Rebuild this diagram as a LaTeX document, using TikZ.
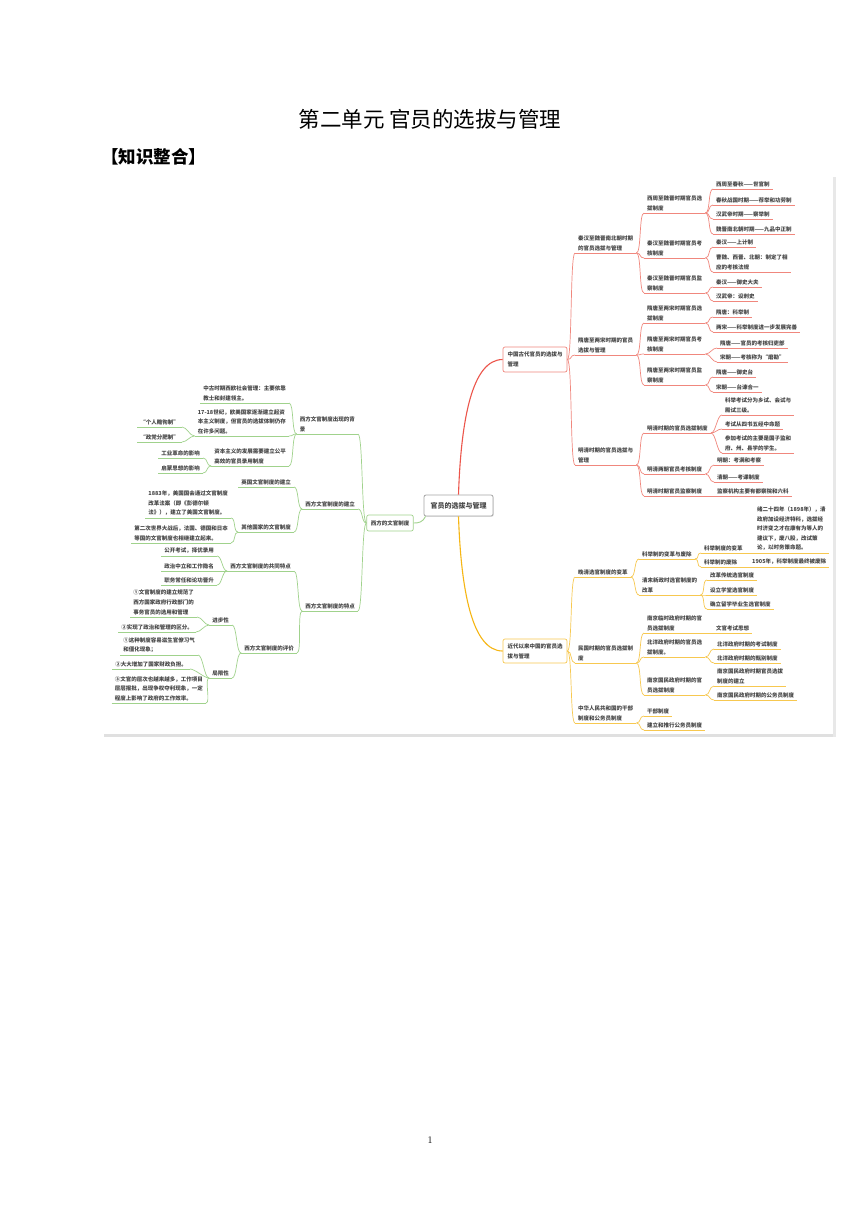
\documentclass[tikz,border=0pt]{standalone}
\usepackage{fontspec}
\newfontfamily\cjk{Noto Sans CJK SC}
\usetikzlibrary{calc,shadows}
\definecolor{cred}{RGB}{240,135,125}
\definecolor{credd}{RGB}{236,85,75}
\definecolor{cyel}{RGB}{247,200,80}
\definecolor{cyeld}{RGB}{246,182,20}
\definecolor{cgrn}{RGB}{160,210,140}
\definecolor{ctxt}{RGB}{70,70,70}
\begin{document}
\begin{tikzpicture}[x=1pt,y=-1pt,
 base/.style={font=\cjk\bfseries\fontsize{5.5}{9.6}\selectfont, text=ctxt, inner xsep=3pt, inner ysep=2pt, align=left},
 ul/.style={append after command={(\tikzlastnode.south west) edge[draw=#1,line width=0.7pt] (\tikzlastnode.south east)}},
 rr/.style={base, anchor=south west, ul=cred},
 ry/.style={base, anchor=south west, ul=cyel},
 lg/.style={base, anchor=south east, ul=cgrn},
 cr/.style={draw=cred, line width=0.7pt},
 cy/.style={draw=cyel, line width=0.7pt},
 cg/.style={draw=cgrn, line width=0.7pt},
 box/.style={draw=#1, fill=white, rounded corners=2pt, line width=0.7pt, font=\cjk\bfseries\fontsize{5.5}{10}\selectfont, text=ctxt, align=left, inner xsep=4pt, inner ysep=2.5pt},
]
\useasboundingbox (0,0) rectangle (860,1216);
\fill[white] (0,0) rectangle (860,1216);

% page texts
\node[font=\cjk\fontsize{21.5}{21.5}\selectfont, text=black] (title) at (430,119) {第二单元 官员的选拔与管理};
\node[font=\cjk\bfseries\fontsize{17.5}{17.5}\selectfont, text=black, anchor=west, inner sep=0pt] (sub) at (101,157) {【知识整合】};
\node[font=\fontsize{10}{10}\selectfont] (pno) at (430,1140) {1};

% image frame shadow
\fill[black!12] (104,733.5) rectangle (836,737);
\fill[black!9] (832.5,177) rectangle (836,737);

% root and main boxes
\node[draw=black!35, fill=white, rounded corners=2pt, line width=0.8pt, minimum width=69pt, minimum height=21pt, font=\cjk\bfseries\fontsize{7}{8}\selectfont, text=ctxt, drop shadow={opacity=0.2, shadow xshift=0.8pt, shadow yshift=-0.8pt}] (root) at (458.5,505.5) {官员的选拔与管理};
\node[box=cred, minimum width=64pt, minimum height=25pt] (abox) at (535,359.5) {中国古代官员的选拔与\\管理};
\node[box=cyel, minimum width=64pt, minimum height=24pt] (bbox) at (535,651) {近代以来中国的官员选\\拔与管理};
\node[box=cgrn, minimum width=46pt, minimum height=16pt] (wbox) at (390,523) {西方的文官制度};

\draw[draw=credd, line width=1.1pt] (root.north) .. controls (461,420) and (472,359.5) .. (abox.west);
\draw[draw=cyeld, line width=1.1pt] (root.south) .. controls (461,590) and (472,651) .. (bbox.west);
\draw[cg, line width=0.9pt] ($(root.south west)+(2,0)$) .. controls +(-3,6) and +(5,0) .. (wbox.east);

% ===== red branch =====
\node[rr] (a1) at (575,253) {秦汉至魏晋南北朝时期\\的官员选拔与管理};
\node[rr] (a2) at (575,355) {隋唐至两宋时期的官员\\选拔与管理};
\node[rr] (a3) at (575,465) {明清时期的官员选拔与\\管理};

\node[rr] (a11) at (644,213) {西周至魏晋时期官员选\\拔制度};
\node[rr] (a12) at (644,258) {秦汉至魏晋时期官员考\\核制度};
\node[rr] (a13) at (644,293) {秦汉至魏晋时期官员监\\察制度};
\node[rr] (a111) at (713,189) {西周至春秋——世官制};
\node[rr] (a112) at (713,205) {春秋战国时期——荐举和功劳制};
\node[rr] (a113) at (713,219) {汉武帝时期——察举制};
\node[rr] (a114) at (713,234) {魏晋南北朝时期——九品中正制};
\node[rr] (a121) at (713,247) {秦汉——上计制};
\node[rr] (a122) at (713,272) {曹魏、西晋、北朝：制定了相\\应的考核法规};
\node[rr] (a131) at (713,287) {秦汉——御史大夫};
\node[rr] (a132) at (713,301) {汉武帝：设刺史};

\node[rr] (a21) at (644,323) {隋唐至两宋时期官员选\\拔制度};
\node[rr] (a22) at (644,354) {隋唐至两宋时期官员考\\核制度};
\node[rr] (a23) at (644,385) {隋唐至两宋时期官员监\\察制度};
\node[rr] (a211) at (713,317) {隋唐：科举制};
\node[rr] (a212) at (713,332) {两宋——科举制度进一步发展完善};
\node[rr] (a221) at (717,348) {隋唐——官员的考核归吏部};
\node[rr] (a222) at (717,362) {宋朝——考核称为“磨勘”};
\node[rr] (a231) at (713,377) {隋唐——御史台};
\node[rr] (a232) at (713,392) {宋朝——台谏合一};

\node[rr] (a31) at (644,433) {明清时期的官员选拔制度};
\node[rr] (a32) at (644,474) {明清两朝官员考核制度};
\node[rr] (a33) at (644,496) {明清时期官员监察制度};
\node[rr] (a311) at (722,415) {科举考试分为乡试、会试与\\殿试三级。};
\node[rr] (a312) at (722,429) {考试从四书五经中命题};
\node[rr] (a313) at (722,453) {参加考试的主要是国子监和\\府、州、县学的学生。};
\node[rr] (a321) at (714,465) {明朝：考满和考察};
\node[rr] (a322) at (714,482) {清朝——考课制度};
\node[rr] (a331) at (714,496) {监察机构主要有都察院和六科};

\foreach \c in {a1,a2,a3} \draw[cr] (abox.east) .. controls +(5,0) and +(-5,0) .. (\c.south west);
\foreach \c in {a11,a12,a13} \draw[cr] (a1.south east) .. controls +(5,0) and +(-5,0) .. (\c.south west);
\foreach \c in {a21,a22,a23} \draw[cr] (a2.south east) .. controls +(5,0) and +(-5,0) .. (\c.south west);
\foreach \c in {a31,a32,a33} \draw[cr] (a3.south east) .. controls +(5,0) and +(-5,0) .. (\c.south west);
\foreach \c in {a111,a112,a113,a114} \draw[cr] (a11.south east) .. controls +(5,0) and +(-5,0) .. (\c.south west);
\foreach \c in {a121,a122} \draw[cr] (a12.south east) .. controls +(5,0) and +(-5,0) .. (\c.south west);
\foreach \c in {a131,a132} \draw[cr] (a13.south east) .. controls +(5,0) and +(-5,0) .. (\c.south west);
\foreach \c in {a211,a212} \draw[cr] (a21.south east) .. controls +(5,0) and +(-5,0) .. (\c.south west);
\foreach \c in {a221,a222} \draw[cr] (a22.south east) .. controls +(5,0) and +(-5,0) .. (\c.south west);
\foreach \c in {a231,a232} \draw[cr] (a23.south east) .. controls +(5,0) and +(-5,0) .. (\c.south west);
\foreach \c in {a311,a312,a313} \draw[cr] (a31.south east) .. controls +(5,0) and +(-5,0) .. (\c.south west);
\foreach \c in {a321,a322} \draw[cr] (a32.south east) .. controls +(5,0) and +(-5,0) .. (\c.south west);
\draw[cr] (a33.south east) -- (a331.south west);

% ===== yellow branch =====
\node[ry] (b1) at (575,577) {晚清选官制度的变革};
\node[ry] (b2) at (575,663) {民国时期的官员选拔制\\度};
\node[ry] (b3) at (575,723) {中华人民共和国的干部\\制度和公务员制度};

\node[ry] (b11) at (639,559) {科举制的变革与废除};
\node[ry] (b12) at (639,595) {清末新政时选官制度的\\改革};
\node[ry] (b111) at (701,553) {科举制度的变革};
\node[ry] (b112) at (701,567) {科举制的废除};
\node[ry] (b1111) at (754,553) {绪二十四年（1898年），清\\政府加设经济特科，选拔经\\时济变之才在康有为等人的\\建议下，废八股，改试策\\论，以时务策命题。};
\node[ry] (b1121) at (749,567) {1905年，科举制度最终被废除};
\node[ry] (b121) at (707,580) {改革传统选官制度};
\node[ry] (b122) at (707,595) {设立学堂选官制度};
\node[ry] (b123) at (707,609) {确立留学毕业生选官制度};

\node[ry] (b21) at (644,633) {南京临时政府时期的官\\员选拔制度};
\node[ry] (b22) at (644,657) {北洋政府时期的官员选\\拔制度。};
\node[ry] (b23) at (644,695) {南京国民政府时期的官\\员选拔制度};
\node[ry] (b211) at (713,633) {文官考试思想};
\node[ry] (b221) at (714,649) {北洋政府时期的考试制度};
\node[ry] (b222) at (714,663) {北洋政府时期的甄别制度};
\node[ry] (b231) at (714,686) {南京国民政府时期官员选拔\\制度的建立};
\node[ry] (b232) at (714,700) {南京国民政府时期的公务员制度};

\node[ry] (b31) at (644,716) {干部制度};
\node[ry] (b32) at (644,730) {建立和推行公务员制度};

\foreach \c in {b1,b2,b3} \draw[cy] (bbox.east) .. controls +(5,0) and +(-5,0) .. (\c.south west);
\foreach \c in {b11,b12} \draw[cy] (b1.south east) .. controls +(5,0) and +(-5,0) .. (\c.south west);
\foreach \c in {b111,b112} \draw[cy] (b11.south east) .. controls +(5,0) and +(-5,0) .. (\c.south west);
\draw[cy] (b111.south east) -- (b1111.south west);
\draw[cy] (b112.south east) -- (b1121.south west);
\foreach \c in {b121,b122,b123} \draw[cy] (b12.south east) .. controls +(5,0) and +(-5,0) .. (\c.south west);
\foreach \c in {b21,b22,b23} \draw[cy] (b2.south east) .. controls +(5,0) and +(-5,0) .. (\c.south west);
\draw[cy] (b21.south east) -- (b211.south west);
\foreach \c in {b221,b222} \draw[cy] (b22.south east) .. controls +(5,0) and +(-5,0) .. (\c.south west);
\foreach \c in {b231,b232} \draw[cy] (b23.south east) .. controls +(5,0) and +(-5,0) .. (\c.south west);
\foreach \c in {b31,b32} \draw[cy] (b3.south east) .. controls +(5,0) and +(-5,0) .. (\c.south west);

% ===== green branch =====
\node[lg] (c1) at (358,434) {西方文官制度出现的背\\景};
\node[lg] (c2) at (358,509) {西方文官制度的建立};
\node[lg] (c3) at (358,611) {西方文官制度的特点};

\node[lg] (c11) at (289,403) {中古时期西欧社会管理：主要依靠\\教士和封建领主。};
\node[lg] (c12) at (289,436) {17-18世纪，欧美国家逐渐建立起资\\本主义制度，但官员的选拔体制仍存\\在许多问题。};
\node[lg] (c13) at (289,466) {资本主义的发展需要建立公平\\高效的官员录用制度};
\node[lg] (c121) at (182,427) {“个人赡徇制”};
\node[lg] (c122) at (182,442) {“政党分肥制”};
\node[lg] (c131) at (203,458) {工业革命的影响};
\node[lg] (c132) at (203,473) {启蒙思想的影响};

\node[lg] (c21) at (294,487) {英国文官制度的建立};
\node[lg] (c22) at (294,532) {其他国家的文官制度};
\node[lg] (c221) at (231,518) {1883年，美国国会通过文官制度\\改革法案（即《彭德尔顿\\法》），建立了美国文官制度。};
\node[lg] (c222) at (231,543) {第二次世界大战后，法国、德国和日本\\等国的文官制度也相继建立起来。};

\node[lg] (c31) at (294,571) {西方文官制度的共同特点};
\node[lg] (c32) at (297,653) {西方文官制度的评价};
\node[lg] (c311) at (217,556) {公开考试，择优录用};
\node[lg] (c312) at (217,571) {政治中立和工作隐名};
\node[lg] (c313) at (217,585) {职务常任和论功晋升};
\node[lg] (c321) at (232,625) {进步性};
\node[lg] (c322) at (232,678) {局限性};
\node[lg] (c3211) at (197,617) {①文官制度的建立规范了\\西方国家政府行政部门的\\事务官员的选用和管理};
\node[lg] (c3212) at (196,632) {②实现了政治和管理的区分。};
\node[lg] (c3221) at (198,655) {①这种制度容易滋生官僚习气\\和僵化现象；};
\node[lg] (c3222) at (190,669) {②大大增加了国家财政负担。};
\node[lg] (c3223) at (206,703) {③文官的层次也越来越多，工作项目\\层层报批，出现争权夺利现象，一定\\程度上影响了政府的工作效率。};

\foreach \c in {c1,c2,c3} \draw[cg] (wbox.west) .. controls +(-5,0) and +(5,0) .. (\c.south east);
\foreach \c in {c11,c12,c13} \draw[cg] (c1.south west) .. controls +(-5,0) and +(5,0) .. (\c.south east);
\foreach \c in {c121,c122} \draw[cg] (c12.south west) .. controls +(-5,0) and +(5,0) .. (\c.south east);
\foreach \c in {c131,c132} \draw[cg] (c13.south west) .. controls +(-5,0) and +(5,0) .. (\c.south east);
\foreach \c in {c21,c22} \draw[cg] (c2.south west) .. controls +(-5,0) and +(5,0) .. (\c.south east);
\foreach \c in {c221,c222} \draw[cg] (c22.south west) .. controls +(-5,0) and +(5,0) .. (\c.south east);
\foreach \c in {c31,c32} \draw[cg] (c3.south west) .. controls +(-5,0) and +(5,0) .. (\c.south east);
\foreach \c in {c311,c312,c313} \draw[cg] (c31.south west) .. controls +(-5,0) and +(5,0) .. (\c.south east);
\foreach \c in {c321,c322} \draw[cg] (c32.south west) .. controls +(-5,0) and +(5,0) .. (\c.south east);
\foreach \c in {c3211,c3212} \draw[cg] (c321.south west) .. controls +(-5,0) and +(5,0) .. (\c.south east);
\foreach \c in {c3221,c3222,c3223} \draw[cg] (c322.south west) .. controls +(-5,0) and +(5,0) .. (\c.south east);
\end{tikzpicture}
\end{document}
